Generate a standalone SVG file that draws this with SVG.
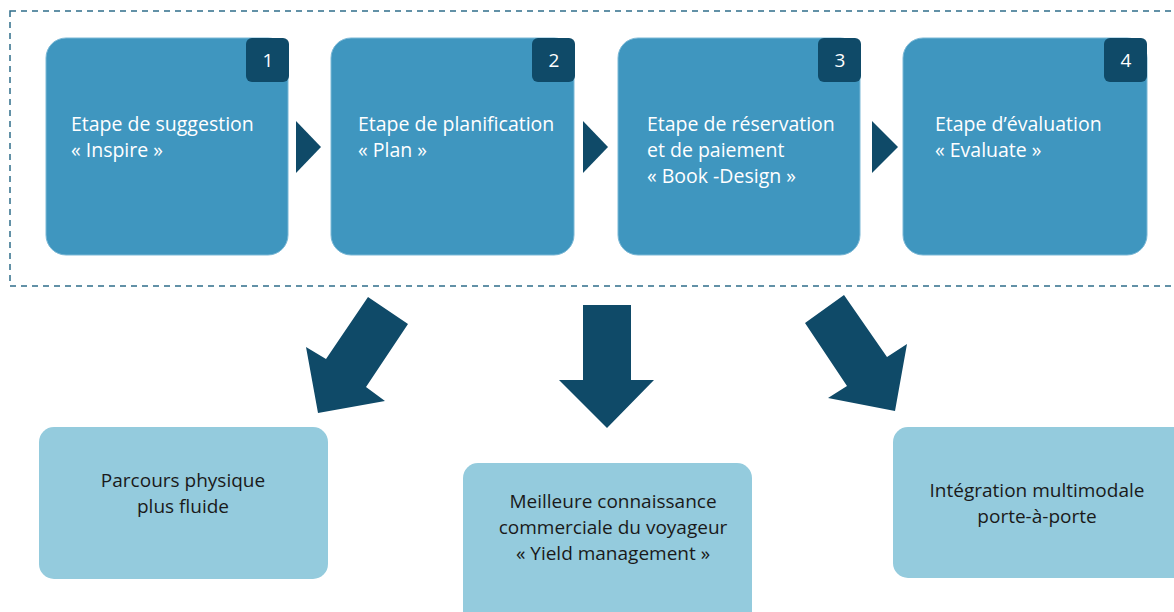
<svg xmlns="http://www.w3.org/2000/svg" width="1174" height="612" viewBox="0 0 1174 612">
<style>
.step{fill:#3f96bf;stroke:#7bb8d6;stroke-width:1}
.badge{fill:#0f4a68}
.num{fill:#ffffff;font-family:"Open Sans","Liberation Sans",sans-serif;font-size:19px;text-anchor:middle}
.st{fill:#ffffff;font-family:"Open Sans","Liberation Sans",sans-serif;font-size:19.5px}
.res{fill:#94cbdd}
.rt{fill:#1a1a1a;font-family:"Open Sans","Liberation Sans",sans-serif;font-size:19px;text-anchor:middle}
.arr{fill:#0f4a68}
</style>
<rect x="10" y="11" width="1180" height="275" fill="none" stroke="#2f6d8a" stroke-width="1.5" stroke-dasharray="6,5"/>
<g id="step1">
<rect class="step" x="46" y="38" width="242" height="217" rx="20"/>
<rect class="badge" x="246" y="38" width="43" height="44" rx="6"/>
<text class="num" x="268" y="67">1</text>
<text class="st" x="71" y="131">Etape de suggestion</text>
<text class="st" x="71" y="157">« Inspire »</text>
</g>
<g id="step2">
<rect class="step" x="331" y="38" width="243" height="217" rx="20"/>
<rect class="badge" x="532" y="38" width="43" height="44" rx="6"/>
<text class="num" x="554" y="67">2</text>
<text class="st" x="358" y="131">Etape de planification</text>
<text class="st" x="358" y="157">« Plan »</text>
</g>
<g id="step3">
<rect class="step" x="618" y="38" width="242" height="217" rx="20"/>
<rect class="badge" x="818" y="38" width="43" height="44" rx="6"/>
<text class="num" x="840" y="67">3</text>
<text class="st" x="647" y="131">Etape de réservation</text>
<text class="st" x="647" y="157">et de paiement</text>
<text class="st" x="647" y="183">« Book -Design »</text>
</g>
<g id="step4">
<rect class="step" x="903" y="38" width="244" height="217" rx="20"/>
<rect class="badge" x="1104" y="38" width="43" height="44" rx="6"/>
<text class="num" x="1126" y="67">4</text>
<text class="st" x="935" y="131">Etape d’évaluation</text>
<text class="st" x="935" y="157">« Evaluate »</text>
</g>
<g id="result1">
<rect class="res" x="39" y="427" width="289" height="152" rx="15"/>
<text class="rt" x="183" y="487">Parcours physique</text>
<text class="rt" x="183" y="513">plus fluide</text>
</g>
<g id="result2">
<rect class="res" x="463" y="463" width="289" height="170" rx="15"/>
<text class="rt" x="613" y="508">Meilleure connaissance</text>
<text class="rt" x="613" y="534">commerciale du voyageur</text>
<text class="rt" x="613" y="560">« Yield management »</text>
</g>
<g id="result3">
<rect class="res" x="893" y="427" width="300" height="151" rx="15"/>
<text class="rt" x="1037" y="497">Intégration multimodale</text>
<text class="rt" x="1037" y="523">porte-à-porte</text>
</g>
<g id="connectors">
<polygon class="arr" points="296,121 321,147 296,173"/>
<polygon class="arr" points="583,121 608,147 583,173"/>
<polygon class="arr" points="872,121 898,147 872,173"/>
<polygon class="arr" points="368,297 408,324 366,387 385,401 318,413 306,347 326,359"/>
<polygon class="arr" points="583,305 631,305 631,380 654,380 607,428 559,380 583,380"/>
<polygon class="arr" points="805,323 844,295 887,357 907,344 895,411 828,398 847,386"/>
</g>
</svg>
